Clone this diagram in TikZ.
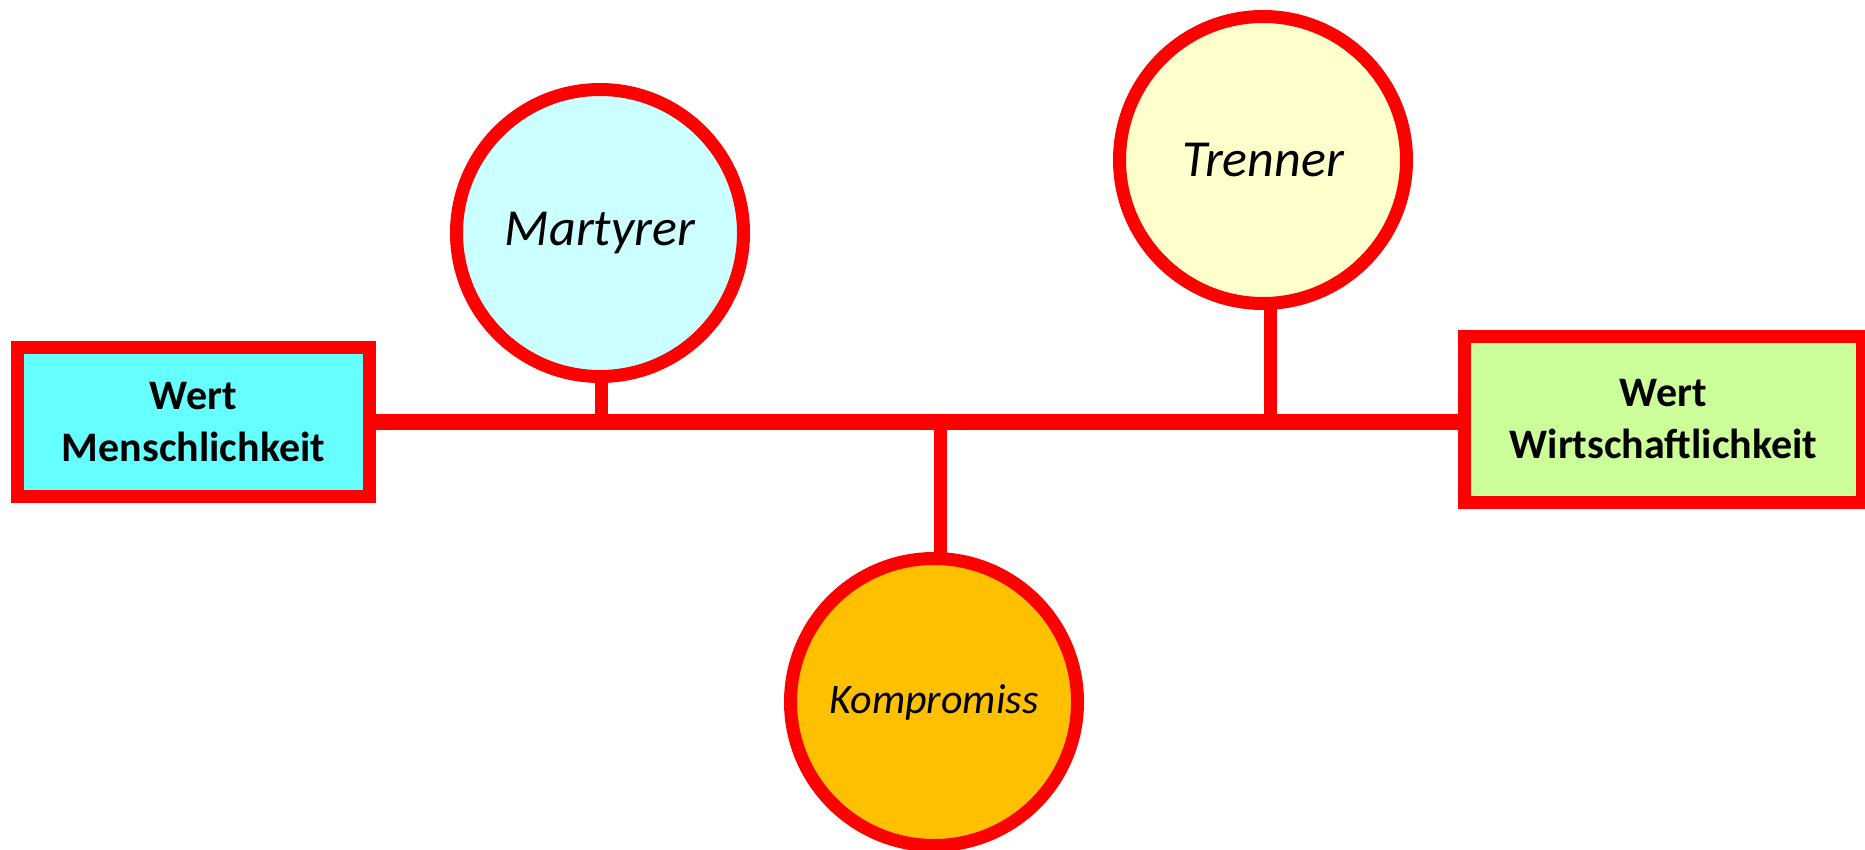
\documentclass[tikz,border=0pt]{standalone}
\usepackage{fontspec}
\setmainfont{Carlito}
\definecolor{lred}{HTML}{FF0000}
\definecolor{cyanfill}{HTML}{66FFFF}
\definecolor{lightcyan}{HTML}{CCFFFF}
\definecolor{lightyellow}{HTML}{FFFFCC}
\definecolor{orangefill}{HTML}{FFC000}
\definecolor{lightgreen}{HTML}{CCFF99}
\begin{document}
\begin{tikzpicture}[x=1pt,y=1pt,
  valuebox/.style={draw=lred, line width=13pt, rectangle, inner sep=0pt, align=center,
    font=\bfseries\fontsize{42}{52}\selectfont},
  rolecircle/.style={draw=lred, line width=13pt, circle, inner sep=0pt, minimum size=287pt,
    font=\itshape\fontsize{52}{60}\selectfont},
  connector/.style={draw=lred, line cap=butt}]
\useasboundingbox (0,0) rectangle (1865,-850);
\clip (0,0) rectangle (1865,-850);
% connectors first (behind nodes)
\coordinate (hl) at (601,-422);
\coordinate (tj) at (1270,-422);
\coordinate (kj) at (940,-422);
\coordinate (tc) at (1270,-300);
\coordinate (kc) at (940,-560);
\coordinate (mc) at (601,-380);
\draw[connector, line width=13pt] (tj) -- (tc);
\draw[connector, line width=13pt] (kj) -- (kc);
\draw[connector, line width=13pt] (hl) -- (mc);
% nodes
\node[valuebox, fill=cyanfill, minimum width=352pt, minimum height=149pt] (lbox) at (193.5,-422) {Wert\\Menschlichkeit};
\node[valuebox, fill=lightgreen, minimum width=398pt, minimum height=166pt] (rbox) at (1663.5,-419.5) {Wert\\Wirtschaftlichkeit};
\node[rolecircle, fill=lightcyan] (mart) at (600,-233) {Martyrer};
\node[rolecircle, fill=lightyellow] (tren) at (1263,-160) {Trenner};
\node[rolecircle, fill=orangefill, font=\itshape\fontsize{42}{50}\selectfont] (komp) at (934,-702) {Kompromiss};
% main horizontal line
\draw[connector, line width=16pt] (lbox.east |- hl) -- (rbox.west |- hl);
\end{tikzpicture}
\end{document}
